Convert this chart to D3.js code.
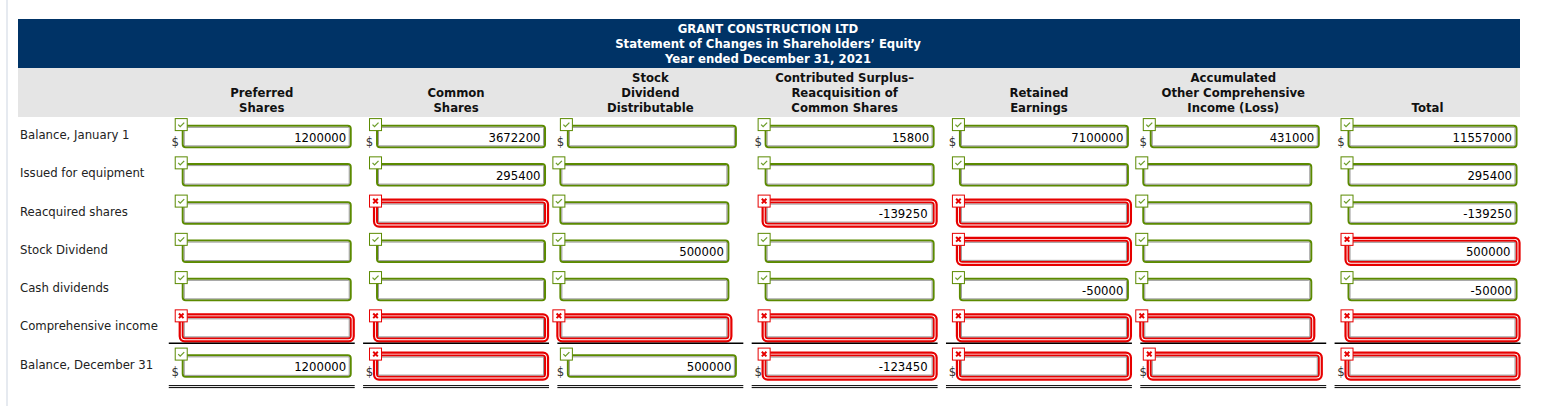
<!DOCTYPE html>
<html>
<head>
<meta charset="utf-8">
<script src="https://cdn.jsdelivr.net/npm/d3@7"></script>
<style>
  body { margin: 0; background: #fff; }
  svg { display: block; font-family: Verdana, "DejaVu Sans", sans-serif; }
</style>
</head>
<body>
<div id="sheet"></div>
<script>
// statement title and column headings
var titleLines = ["GRANT CONSTRUCTION LTD", "Statement of Changes in Shareholders\u2019 Equity", "Year ended December 31, 2021"];
var columnHeads = [
  ["Preferred", "Shares"],
  ["Common", "Shares"],
  ["Stock", "Dividend", "Distributable"],
  ["Contributed Surplus\u2013", "Reacquisition of", "Common Shares"],
  ["Retained", "Earnings"],
  ["Accumulated", "Other Comprehensive", "Income (Loss)"],
  ["Total"]
];
var rowLabels = ["Balance, January 1", "Issued for equipment", "Reacquired shares", "Stock Dividend",
  "Cash dividends", "Comprehensive income", "Balance, December 31"];

// entered values, one array per column (null = empty box)
var preferred   = [1200000, null, null, null, null, null, 1200000];
var common      = [3672200, 295400, null, null, null, null, null];
var stockDiv    = [null, null, null, 500000, null, null, 500000];
var contributed = [15800, null, -139250, null, null, null, -123450];
var retained    = [7100000, null, null, null, -50000, null, null];
var aoci        = [431000, null, null, null, null, null, null];
var total       = [11557000, 295400, -139250, 500000, -50000, null, null];

// grading marks, 1 = correct, 0 = wrong
var preferredOk   = [1, 1, 1, 1, 1, 0, 1];
var commonOk      = [1, 1, 0, 1, 1, 0, 0];
var stockDivOk    = [1, 1, 1, 1, 1, 0, 1];
var contributedOk = [1, 1, 0, 1, 1, 0, 0];
var retainedOk    = [1, 1, 0, 0, 1, 0, 0];
var aociOk        = [1, 1, 1, 1, 1, 0, 0];
var totalOk       = [1, 1, 1, 0, 1, 0, 0];

var columnValues = [preferred, common, stockDiv, contributed, retained, aoci, total];
var columnMarks = [preferredOk, commonOk, stockDivOk, contributedOk, retainedOk, aociOk, totalOk];

var width = 1543, height = 406;
var navy = "#003366", band = "#e5e5e5", green = "#5b8a00", red = "#e60000", grey = "#9a9a9a";
var fs = "11.7px";

var svg = d3.select("#sheet")
  .append("svg")
  .attr("width", width)
  .attr("height", height);

// columns and rows
var colKeys = d3.range(columnHeads.length);
var x = d3.scaleBand()
  .domain(colKeys)
  .range([164.6, 1524.7])
  .paddingInner(0.043)
  .paddingOuter(0.0215);
var y = d3.scalePoint()
  .domain(d3.range(rowLabels.length))
  .range([136.6, 366.1]);

// cells in these columns sit to the left of their column
var leftCols = [2, 5];
var lastRow = rowLabels.length - 1;

// thin page edge
svg.append("rect")
  .attr("x", 6).attr("y", 0).attr("width", 2).attr("height", height)
  .attr("fill", "#e6eaf0");

// header bands
svg.append("rect")
  .attr("x", 18).attr("y", 19).attr("width", 1502).attr("height", 49)
  .attr("fill", navy);
svg.append("rect")
  .attr("x", 18).attr("y", 68).attr("width", 1502).attr("height", 49)
  .attr("fill", band);

svg.selectAll("text.title")
  .data(titleLines)
  .enter().append("text")
  .attr("class", "title")
  .attr("x", 768)
  .attr("y", function (d, i) { return 33 + i * 15; })
  .attr("text-anchor", "middle")
  .attr("font-size", fs)
  .attr("font-weight", "bold")
  .attr("fill", "#fff")
  .text(function (d) { return d; });

// column headings, bottom aligned
var heads = svg.selectAll("g.head")
  .data(columnHeads)
  .enter().append("g")
  .attr("class", "head");
heads.each(function (lines, c) {
  d3.select(this).selectAll("text")
    .data(lines)
    .enter().append("text")
    .attr("x", x(c) + x.bandwidth() / 2)
    .attr("y", function (d, i) { return 111.5 - (lines.length - 1 - i) * 15; })
    .attr("text-anchor", "middle")
    .attr("font-size", fs)
    .attr("font-weight", "bold")
    .attr("fill", "#111")
    .text(function (d) { return d; });
});

// row labels
svg.selectAll("text.label")
  .data(rowLabels)
  .enter().append("text")
  .attr("class", "label")
  .attr("x", 20)
  .attr("y", function (d, i) { return y(i) + 2.5; })
  .attr("font-size", fs)
  .attr("fill", "#222")
  .text(function (d) { return d; });

// build cells
var cells = [];
colKeys.forEach(function (c) {
  rowLabels.forEach(function (r, i) {
    var dollar = (i === 0 || i === lastRow);
    var cx;
    if (leftCols.indexOf(c) >= 0) {
      cx = x(c) + 2 + (dollar ? 7.5 : 0) + 85;
    } else {
      cx = x(c) + x.bandwidth() - 3 - 85;
    }
    cells.push({ col: c, row: i, value: columnValues[c][i], ok: columnMarks[c][i] === 1,
      dollar: dollar, cx: cx, cy: y(i) });
  });
});

var cell = svg.selectAll("g.cell")
  .data(cells)
  .enter().append("g")
  .attr("class", "cell")
  .attr("transform", function (d) { return "translate(" + d.cx + "," + d.cy + ")"; });

// dollar signs (drawn first so the box edge sits beside them)
cell.filter(function (d) { return d.dollar; })
  .append("text")
  .attr("x", -91.5)
  .attr("y", 9.5)
  .attr("text-anchor", "middle")
  .attr("font-size", fs)
  .attr("fill", "#333")
  .text("$");

// green boxes
var okCells = cell.filter(function (d) { return d.ok; });
okCells.append("rect")
  .attr("x", -84).attr("y", -10.75).attr("width", 168).attr("height", 21.5)
  .attr("rx", 3)
  .attr("fill", "#fff").attr("stroke", green).attr("stroke-width", 2);
okCells.append("rect")
  .attr("x", -82.5).attr("y", -9.25).attr("width", 165).attr("height", 18.5)
  .attr("rx", 1)
  .attr("fill", "none").attr("stroke", grey).attr("stroke-width", 1);

// red double boxes
var badCells = cell.filter(function (d) { return !d.ok; });
badCells.append("rect")
  .attr("x", -87).attr("y", -13.5).attr("width", 174).attr("height", 27)
  .attr("rx", 5)
  .attr("fill", "#fff").attr("stroke", red).attr("stroke-width", 2.2);
badCells.append("rect")
  .attr("x", -84).attr("y", -10.5).attr("width", 168).attr("height", 21)
  .attr("rx", 2.5)
  .attr("fill", "#fff").attr("stroke", red).attr("stroke-width", 2);
badCells.append("rect")
  .attr("x", -82.5).attr("y", -9).attr("width", 165).attr("height", 18)
  .attr("fill", "none").attr("stroke", grey).attr("stroke-width", 1);

// values
cell.filter(function (d) { return d.value !== null; })
  .append("text")
  .attr("x", function (d) { return d.ok ? 79.5 : 78; })
  .attr("y", 5)
  .attr("text-anchor", "end")
  .attr("font-size", fs)
  .attr("fill", "#000")
  .text(function (d) { return String(d.value); });

// grading icons
var icon = cell.append("g")
  .attr("transform", "translate(-92,-18.5)");
icon.append("rect")
  .attr("x", 0.5).attr("y", 0.5).attr("width", 12).attr("height", 12)
  .attr("fill", "#fff")
  .attr("stroke", function (d) { return d.ok ? green : red; })
  .attr("stroke-width", 1);
icon.filter(function (d) { return d.ok; })
  .append("path")
  .attr("d", "M3.5,6.5L5.5,8.5L9.5,4.5")
  .attr("fill", "none").attr("stroke", "#6c9d2a").attr("stroke-width", 1.3);
icon.filter(function (d) { return !d.ok; })
  .append("path")
  .attr("d", "M4.2,4.2L8.8,8.8M8.8,4.2L4.2,8.8")
  .attr("fill", "none").attr("stroke", red).attr("stroke-width", 2);

// single rule under the last change row, double rule under the closing balance
svg.selectAll("line.single")
  .data(colKeys)
  .enter().append("line")
  .attr("class", "single")
  .attr("x1", function (c) { return x(c); })
  .attr("x2", function (c) { return x(c) + x.bandwidth(); })
  .attr("y1", y(lastRow - 1) + 15.5).attr("y2", y(lastRow - 1) + 15.5)
  .attr("stroke", "#000").attr("stroke-width", 1.5);
[19.5, 21.5].forEach(function (off) {
  svg.selectAll(null)
    .data(colKeys)
    .enter().append("line")
    .attr("x1", function (c) { return x(c); })
    .attr("x2", function (c) { return x(c) + x.bandwidth(); })
    .attr("y1", y(lastRow) + off).attr("y2", y(lastRow) + off)
    .attr("stroke", "#000").attr("stroke-width", 1);
});
</script>
</body>
</html>
